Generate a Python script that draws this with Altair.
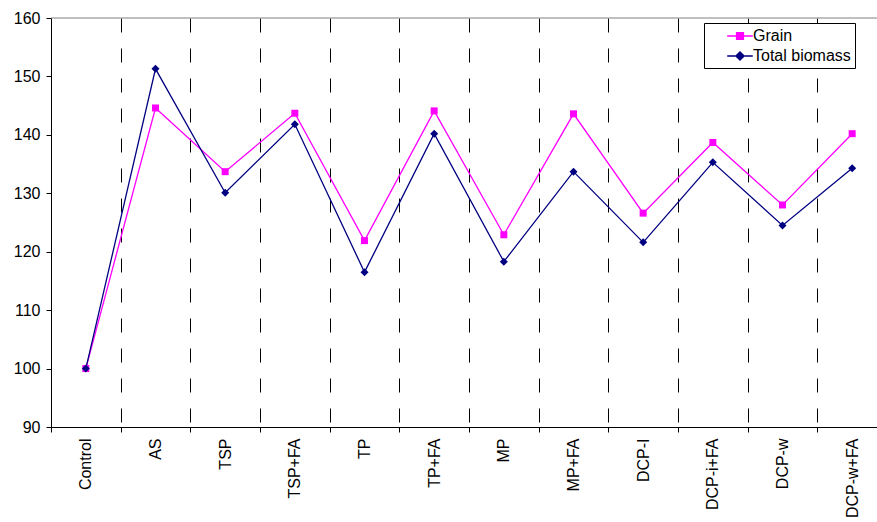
import altair as alt
import pandas as pd

categories = ["Control", "AS", "TSP", "TSP+FA", "TP", "TP+FA", "MP", "MP+FA",
              "DCP-I", "DCP-i+FA", "DCP-w", "DCP-w+FA"]
grain = [100.0, 144.6, 133.7, 143.7, 121.9, 144.1, 122.9, 143.6, 126.6, 138.7, 128.0, 140.2]
total_biomass = [100.0, 151.3, 130.1, 141.8, 116.5, 140.2, 118.3, 133.7, 121.6, 135.3, 124.5, 134.3]
series_names = ["Grain", "Total biomass"]
series_colors = ["#FF00FF", "#000080"]
y_ticks = [90, 100, 110, 120, 130, 140, 150, 160]

rows = []
for c, g, t in zip(categories, grain, total_biomass):
    rows.append({"category": c, "series": "Grain", "value": g})
    rows.append({"category": c, "series": "Total biomass", "value": t})
df = pd.DataFrame(rows)

FONT = "Liberation Sans"

xenc = alt.X("category:N", sort=categories, bandPosition=0.5,
             scale=alt.Scale(type="band", domain=categories, range=[0, 836],
                             paddingInner=0, paddingOuter=0),
             axis=alt.Axis(title=None, labelAngle=-90, labelFont=FONT, labelFontSize=16,
                           labelColor="black", labelPadding=6, tickBand="extent",
                           grid=True, gridColor="black", gridDash=[14, 16], gridWidth=1,
                           domainColor="black", tickColor="black", tickSize=5))
yenc = alt.Y("value:Q",
             scale=alt.Scale(domain=[90, 160], nice=False, zero=False),
             axis=alt.Axis(title=None, values=y_ticks, grid=False, labelFont=FONT,
                           labelFontSize=16, labelColor="black", labelPadding=6,
                           domainColor="black", tickColor="black", tickSize=5))

cscale = alt.Scale(domain=series_names, range=series_colors)

path_sq = "M-1.6,0L1.6,0M-0.42,-0.42L0.42,-0.42L0.42,0.42L-0.42,0.42Z"
path_di = "M-1.6,0L1.6,0M0,-0.5L0.5,0L0,0.5L-0.5,0Z"

leg = alt.Legend(orient="none", legendX=653, legendY=5, title=None,
                 strokeColor="black", fillColor="white", padding=4,
                 labelFont=FONT, labelFontSize=16, labelColor="black",
                 symbolSize=256, symbolStrokeWidth=1.5, symbolOpacity=1,
                 symbolOffset=23, labelOffset=4, rowPadding=3)

base = alt.Chart(df)

lines = base.mark_line(strokeWidth=1.3).encode(
    x=xenc, y=yenc, color=alt.Color("series:N", scale=cscale, legend=leg))

grain_pts = base.transform_filter(alt.datum.series == "Grain").mark_point(
    shape="square", filled=True, size=49, opacity=1).encode(
    x=xenc, y=yenc, color=alt.Color("series:N", scale=cscale, legend=leg))

total_pts = base.transform_filter(alt.datum.series == "Total biomass").mark_point(
    shape="diamond", filled=True, size=64, opacity=1).encode(
    x=xenc, y=yenc, color=alt.Color("series:N", scale=cscale, legend=leg))

legend_layer = base.mark_point(filled=True, size=256, opacity=0).encode(
    x=xenc, y=yenc,
    color=alt.Color("series:N", scale=cscale, legend=leg),
    stroke=alt.Stroke("series:N", scale=cscale, legend=leg),
    shape=alt.Shape("series:N", scale=alt.Scale(domain=series_names, range=[path_sq, path_di]),
                    legend=leg))

top_rule = alt.Chart(pd.DataFrame({"v": [160]})).mark_rule(
    color="#808080", strokeWidth=1).encode(y=alt.Y("v:Q"))

chart = alt.layer(top_rule, lines, grain_pts, total_pts, legend_layer).properties(
    width=826, height=409,
    autosize=alt.AutoSizeParams(type="none"),
    padding={"left": 51, "top": 18, "right": 0, "bottom": 95},
    background="white",
).configure_view(stroke=None)

chart.save("out.html", embed_options={"renderer": "svg", "actions": False})
